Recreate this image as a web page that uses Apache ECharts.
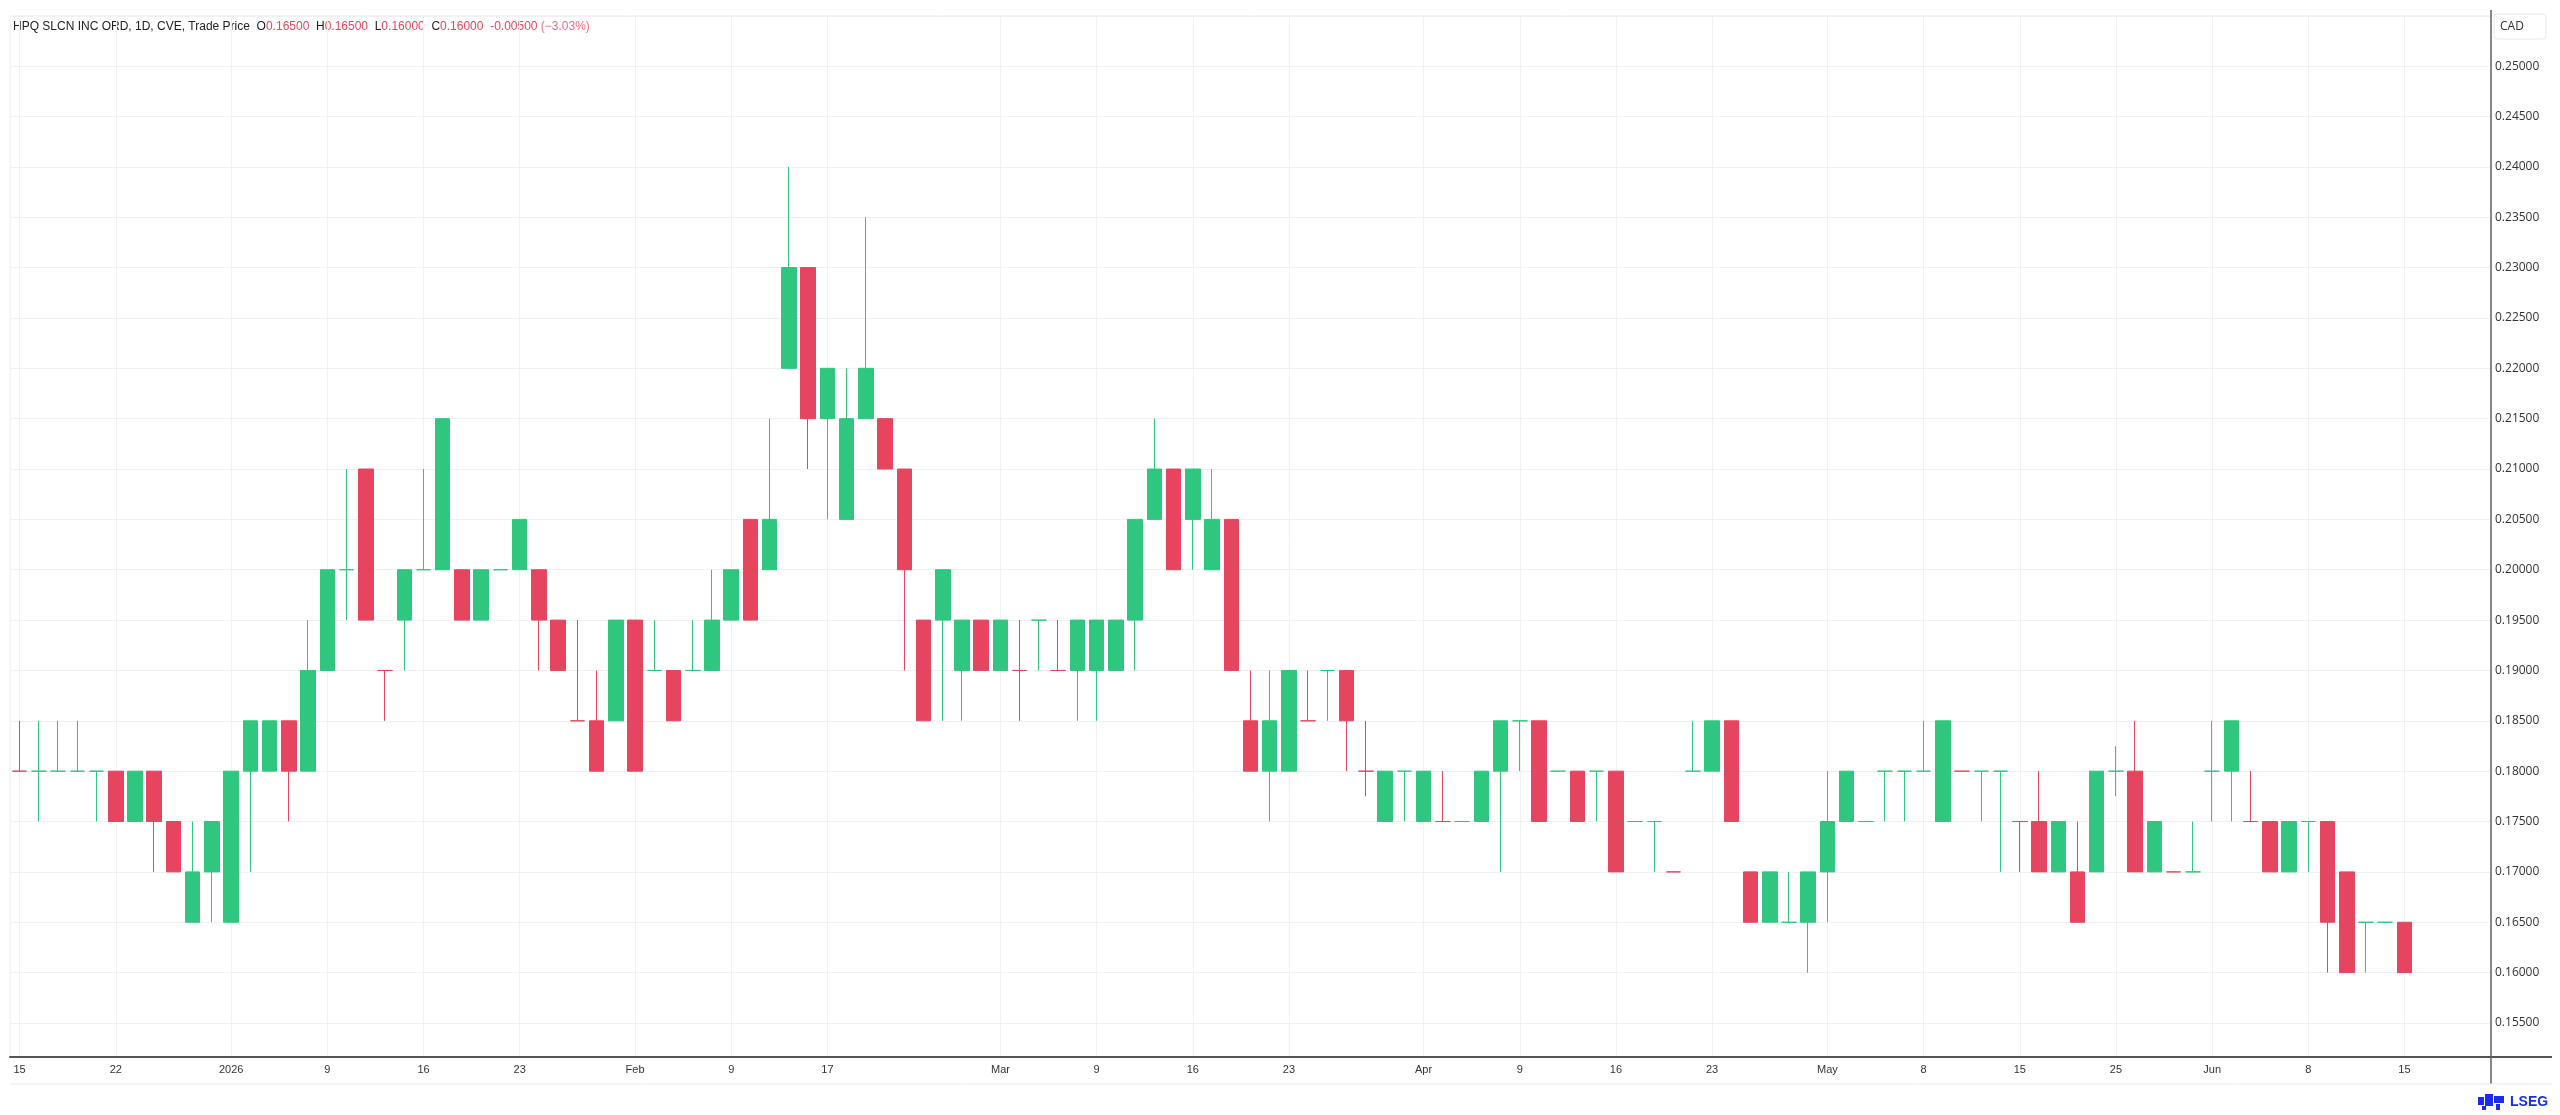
<!DOCTYPE html>
<html><head><meta charset="utf-8">
<script src="https://cdn.jsdelivr.net/npm/echarts@6/dist/echarts.min.js"></script>
<style>html,body{margin:0;padding:0;background:#fff}#c{width:2560px;height:1115px}</style>
</head><body><div id="c"></div>
<script>
// Trading days shown (CVE), Dec 15 2025 - Jun 15 2026
const monthDays = [
  ['2025-12', [15,16,17,18,19,22,23,24,29,30,31]],
  ['2026-01', [2,5,6,7,8,9,12,13,14,15,16,19,20,21,22,23,26,27,28,29,30]],
  ['2026-02', [2,3,4,5,6,9,10,11,12,13,17,18,19,20,23,24,25,26,27]],
  ['2026-03', [2,3,4,5,6,9,10,11,12,13,16,17,18,19,20,23,24,25,26,27,30,31]],
  ['2026-04', [1,2,6,7,8,9,10,13,14,15,16,17,20,21,22,23,24,27,28,29,30]],
  ['2026-05', [1,4,5,6,7,8,11,12,13,14,15,19,20,21,22,25,26,27,28,29]],
  ['2026-06', [1,2,3,4,5,8,9,10,11,12,15]]
];
const tickDates = ['2025-12-15','2025-12-22','2026-01-02','2026-01-09','2026-01-16','2026-01-23','2026-02-02','2026-02-09','2026-02-17','2026-03-02','2026-03-09','2026-03-16','2026-03-23','2026-04-01','2026-04-09','2026-04-16','2026-04-23','2026-05-01','2026-05-08','2026-05-15','2026-05-25','2026-06-01','2026-06-08','2026-06-15'];
const tickTexts = ['15','22','2026','9','16','23','Feb','9','17','Mar','9','16','23','Apr','9','16','23','May','8','15','25','Jun','8','15'];

const opens = [
0.18,0.18,0.18,0.18,0.18,0.18,0.175,0.18,0.175,0.165,
0.17,0.165,0.18,0.18,0.185,0.18,0.19,0.2,0.21,0.19,
0.195,0.2,0.2,0.2,0.195,0.2,0.2,0.2,0.195,0.185,
0.185,0.185,0.195,0.19,0.19,0.19,0.19,0.195,0.205,0.2,
0.22,0.23,0.215,0.205,0.215,0.215,0.21,0.195,0.195,0.19,
0.195,0.19,0.19,0.195,0.19,0.19,0.19,0.19,0.195,0.205,
0.21,0.205,0.2,0.205,0.185,0.18,0.18,0.185,0.19,0.19,
0.18,0.175,0.18,0.175,0.175,0.175,0.175,0.18,0.185,0.185,
0.18,0.18,0.18,0.18,0.175,0.175,0.17,0.18,0.18,0.185,
0.17,0.165,0.165,0.165,0.17,0.175,0.175,0.18,0.18,0.18,
0.175,0.18,0.18,0.18,0.175,0.175,0.17,0.17,0.17,0.18,
0.18,0.17,0.17,0.17,0.18,0.18,0.175,0.175,0.17,0.175,
0.175,0.17,0.165,0.165,0.165];
const closes = [
0.18,0.18,0.18,0.18,0.18,0.175,0.18,0.175,0.17,0.17,
0.175,0.18,0.185,0.185,0.18,0.19,0.2,0.2,0.195,0.19,
0.2,0.2,0.215,0.195,0.2,0.2,0.205,0.195,0.19,0.185,
0.18,0.195,0.18,0.19,0.185,0.19,0.195,0.2,0.195,0.205,
0.23,0.215,0.22,0.215,0.22,0.21,0.2,0.185,0.2,0.195,
0.19,0.195,0.19,0.195,0.19,0.195,0.195,0.195,0.205,0.21,
0.2,0.21,0.205,0.19,0.18,0.185,0.19,0.185,0.19,0.185,
0.18,0.18,0.18,0.18,0.175,0.175,0.18,0.185,0.185,0.175,
0.18,0.175,0.18,0.17,0.175,0.175,0.17,0.18,0.185,0.175,
0.165,0.17,0.165,0.17,0.175,0.18,0.175,0.18,0.18,0.18,
0.185,0.18,0.18,0.18,0.175,0.17,0.175,0.165,0.18,0.18,
0.17,0.175,0.17,0.17,0.18,0.185,0.175,0.17,0.175,0.175,
0.165,0.16,0.165,0.165,0.16];
const lows = [
0.18,0.175,0.18,0.18,0.175,0.175,0.175,0.17,0.17,0.165,
0.165,0.165,0.17,0.18,0.175,0.18,0.19,0.195,0.195,0.185,
0.19,0.2,0.2,0.195,0.195,0.2,0.2,0.19,0.19,0.185,
0.18,0.185,0.18,0.19,0.185,0.19,0.19,0.195,0.195,0.2,
0.22,0.21,0.205,0.205,0.215,0.21,0.19,0.185,0.185,0.185,
0.19,0.19,0.185,0.19,0.19,0.185,0.185,0.19,0.19,0.205,
0.2,0.2,0.2,0.19,0.18,0.175,0.18,0.185,0.185,0.18,
0.1775,0.175,0.175,0.175,0.175,0.175,0.175,0.17,0.18,0.175,
0.18,0.175,0.175,0.17,0.175,0.17,0.17,0.18,0.18,0.175,
0.165,0.165,0.165,0.16,0.165,0.175,0.175,0.175,0.175,0.18,
0.175,0.18,0.175,0.17,0.17,0.17,0.17,0.165,0.17,0.1775,
0.17,0.17,0.17,0.17,0.175,0.175,0.175,0.17,0.17,0.17,
0.16,0.16,0.16,0.165,0.16];
const highs = [
0.185,0.185,0.185,0.185,0.18,0.18,0.18,0.18,0.175,0.175,
0.175,0.18,0.185,0.185,0.185,0.195,0.2,0.21,0.21,0.19,
0.2,0.21,0.215,0.2,0.2,0.2,0.205,0.2,0.195,0.195,
0.19,0.195,0.195,0.195,0.19,0.195,0.2,0.2,0.205,0.215,
0.24,0.23,0.22,0.22,0.235,0.215,0.21,0.195,0.2,0.195,
0.195,0.195,0.195,0.195,0.195,0.195,0.195,0.195,0.205,0.215,
0.21,0.21,0.21,0.205,0.19,0.19,0.19,0.19,0.19,0.19,
0.185,0.18,0.18,0.18,0.18,0.175,0.18,0.185,0.185,0.185,
0.18,0.18,0.18,0.18,0.175,0.175,0.17,0.185,0.185,0.185,
0.17,0.17,0.17,0.17,0.18,0.18,0.175,0.18,0.18,0.185,
0.185,0.18,0.18,0.18,0.175,0.18,0.175,0.175,0.18,0.1825,
0.185,0.175,0.17,0.175,0.185,0.185,0.18,0.175,0.175,0.175,
0.175,0.17,0.165,0.165,0.165];
// doji candles (open == close) that are drawn as down bars
const dojiDown = [0,19,29,52,54,67,70,74,86,101,104,112,116];
const padSlots = ['p1','p2','p3','p4'];

const UP = '#2fc67f', DOWN = '#e5455f';
const dates = [];
monthDays.forEach(([ym, ds]) => ds.forEach(d => dates.push(ym + '-' + String(d).padStart(2, '0'))));
const categories = dates.concat(padSlots);
const tickMap = {};
tickDates.forEach((d, i) => tickMap[d] = tickTexts[i]);

const candleData = dates.map((d, i) => {
  const o = opens[i], c = closes[i];
  const up = c > o || (c === o && dojiDown.indexOf(i) < 0);
  const col = up ? UP : DOWN;
  return { value: [o, c, lows[i], highs[i]],
    itemStyle: { color: col, color0: col, borderColor: col, borderColor0: col } };
});

const n = dates.length;
const lastO = opens[n-1], lastH = highs[n-1], lastL = lows[n-1], lastC = closes[n-1];
const chg = lastC - closes[n-2];
const pct = chg / closes[n-2] * 100;
const f5 = v => v.toFixed(5);
const headerText = '{k|HPQ SLCN INC ORD, 1D, CVE, Trade Price}  {k|O}{r|' + f5(lastO) + '}  {k|H}{r|' + f5(lastH) +
  '}  {k|L}{r|' + f5(lastL) + '}  {k|C}{r|' + f5(lastC) + '}  {r|' + (chg < 0 ? '-' : '+') + f5(Math.abs(chg)) +
  '} {p|(' + (pct < 0 ? '\u2212' : '+') + Math.abs(pct).toFixed(2) + '%)}';

const HF = '12px "Liberation Sans"';
const chart = echarts.init(document.getElementById('c'));
chart.setOption({
  animation: false,
  backgroundColor: '#ffffff',
  grid: { left: 10, right: 69, top: 16, bottom: 58, show: true, borderColor: '#ececec', borderWidth: 1 },
  xAxis: {
    type: 'category', data: categories, boundaryGap: true,
    axisLine: { lineStyle: { color: '#555', width: 2 } },
    axisTick: { show: false },
    splitLine: { show: false },
    axisLabel: {
      interval: (idx, val) => tickMap[val] !== undefined,
      formatter: val => tickMap[val] || '',
      color: '#333', fontSize: 11, fontFamily: 'Liberation Sans', margin: 7
    }
  },
  yAxis: {
    type: 'value', position: 'right', scale: true,
    min: 0.15162, max: 0.25498, splitNumber: 20, minInterval: 0.005, maxInterval: 0.005,
    axisLine: { show: true, lineStyle: { color: '#888', width: 2 } },
    axisTick: { show: false },
    splitLine: { lineStyle: { color: '#f1f1f1', width: 1 } },
    axisLabel: { formatter: v => v.toFixed(5), showMinLabel: false, showMaxLabel: false,
      color: '#333', fontSize: 12, fontFamily: 'Open Sans', margin: 4 }
  },
  series: [
    {
      type: 'line', data: [], z: 0, silent: true, symbol: 'none',
      markLine: {
        z: 0, silent: true, symbol: ['none', 'none'], label: { show: false },
        lineStyle: { color: '#f1f1f1', type: 'solid', width: 1 },
        emphasis: { disabled: true },
        data: tickDates.map(d => ({ xAxis: d }))
      }
    },
    {
      type: 'candlestick', data: candleData, barWidth: 15, z: 3,
      itemStyle: { color: UP, color0: DOWN, borderColor: UP, borderColor0: DOWN, borderWidth: 1 },
      markLine: {
        silent: true, symbol: ['none', 'none'],
        lineStyle: { opacity: 0 },
        label: { show: true, position: 'end', formatter: f5(lastC), color: '#fff',
          backgroundColor: DOWN, padding: [2, 6, 1, 5], fontSize: 12, fontFamily: 'Open Sans', distance: 2 },
        data: [{ yAxis: lastC }]
      }
    }
  ],
  graphic: [
    { type: 'text', x: 13, y: 27, style: { text: headerText, verticalAlign: 'middle', font: HF,
        rich: { k: { fill: '#222', font: HF }, r: { fill: DOWN, font: HF }, p: { fill: '#ec6f84', font: HF } } } },
    { type: 'rect', shape: { x: 2494, y: 14, width: 52, height: 25, r: 3 },
      style: { fill: '#fff', stroke: '#e8e8e8', lineWidth: 1 } },
    { type: 'text', x: 2500, y: 27, style: { text: 'CAD', align: 'left', verticalAlign: 'middle',
        font: '12px "Open Sans"', fill: '#333' } },
    { type: 'line', shape: { x1: 2491, y1: 10, x2: 2491, y2: 17 }, style: { stroke: '#888', lineWidth: 2 } },
    { type: 'line', shape: { x1: 2491, y1: 1057, x2: 2491, y2: 1084 }, style: { stroke: '#888', lineWidth: 2 } },
    { type: 'line', shape: { x1: 2491, y1: 1057, x2: 2552, y2: 1057 }, style: { stroke: '#555', lineWidth: 2 } },
    { type: 'line', shape: { x1: 10, y1: 1084, x2: 2552, y2: 1084 }, style: { stroke: '#ececec', lineWidth: 1 } },
    { type: 'group', x: 2478, y: 1094, children: [
      { type: 'rect', shape: { x: 0, y: 3, width: 6, height: 8 }, style: { fill: '#1a2cf0' } },
      { type: 'rect', shape: { x: 7, y: 0, width: 8, height: 12 }, style: { fill: '#1a2cf0' } },
      { type: 'rect', shape: { x: 16, y: 2, width: 10, height: 7 }, style: { fill: '#1a2cf0' } },
      { type: 'rect', shape: { x: 4, y: 12, width: 4, height: 4 }, style: { fill: '#1a2cf0' } },
      { type: 'rect', shape: { x: 18, y: 10, width: 4, height: 6 }, style: { fill: '#1a2cf0' } }
    ] },
    { type: 'text', x: 2510, y: 1102, style: { text: 'LSEG', verticalAlign: 'middle',
        font: 'bold 14px "Liberation Sans"', fill: '#1a2cf0' } }
  ]
});
</script></body></html>
